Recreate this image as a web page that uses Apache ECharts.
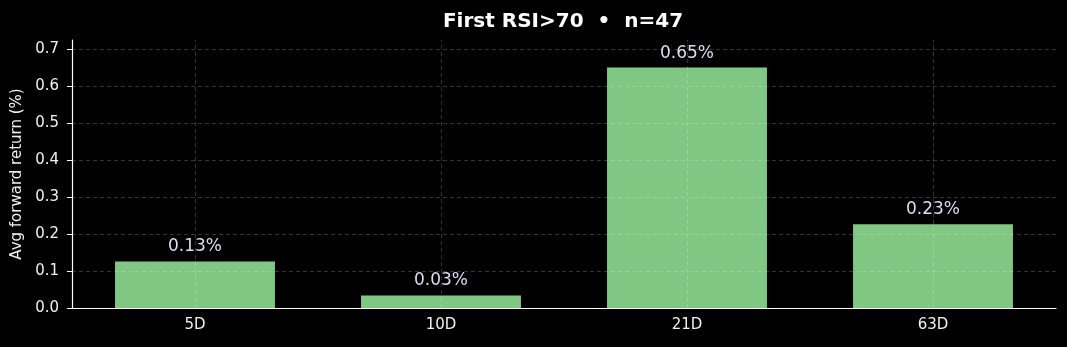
<!DOCTYPE html>
<html><head><meta charset="utf-8">
<script src="https://cdn.jsdelivr.net/npm/echarts@6/dist/echarts.min.js"></script>
<style>html,body{margin:0;padding:0;background:#000;}#c{width:1067px;height:347px;}</style>
</head><body><div id="c"></div>
<script>
const categories = ['5D', '10D', '21D', '63D'];
const avgReturn = [0.126, 0.034, 0.651, 0.227];
const valueLabels = ['0.13%', '0.03%', '0.65%', '0.23%'];
const yTicks = [0.1, 0.2, 0.3, 0.4, 0.5, 0.6, 0.7];
const titleText = 'First RSI>70  \u2022  n=47';
const yName = 'Avg forward return (%)';

const font = 'DejaVu Sans';
const gridStyle = { color: 'rgba(255,255,255,0.25)', type: [4, 3], width: 0.8 };
const gridLines = yTicks.map(v => ({ yAxis: v }))
  .concat(categories.map(c => ({ xAxis: c })));

const chart = echarts.init(document.getElementById('c'));
chart.setOption({
  backgroundColor: '#000',
  animation: false,
  title: { text: titleText, left: 558, textAlign: 'center', top: 7,
    textStyle: { color: '#fff', fontFamily: font, fontSize: 20, fontWeight: 'bold' } },
  grid: { left: 72, right: 11, top: 40, bottom: 39 },
  xAxis: {
    type: 'category', data: categories,
    axisLine: { lineStyle: { color: '#fff', width: 1.2 } },
    axisTick: { alignWithLabel: true, length: 5, lineStyle: { color: '#fff' } },
    axisLabel: { color: '#f0f0f0', fontFamily: font, fontSize: 15, margin: 10 },
    splitLine: { show: false }
  },
  yAxis: {
    type: 'value', min: 0, max: 0.7257, interval: 0.1,
    name: yName, nameLocation: 'middle', nameGap: 47, nameRotate: 90,
    nameTextStyle: { color: '#f0f0f0', fontFamily: font, fontSize: 15 },
    axisLine: { show: true, lineStyle: { color: '#fff', width: 1.2 } },
    axisTick: { show: true, length: 5, lineStyle: { color: '#fff' } },
    axisLabel: { color: '#f0f0f0', fontFamily: font, fontSize: 15, margin: 13,
      formatter: v => v.toFixed(1),
      showMaxLabel: false },
    splitLine: { show: false }
  },
  series: [{
    type: 'bar', data: avgReturn, barWidth: '65%',
    itemStyle: { color: '#81c784' },
    label: { show: true, position: 'top', distance: 6,
      formatter: p => valueLabels[p.dataIndex],
      color: '#dcdcf2', fontFamily: font, fontSize: 17 },
    markLine: { silent: true, symbol: 'none', label: { show: false },
      lineStyle: gridStyle, data: gridLines, z: 5 }
  }]
});
</script></body></html>
